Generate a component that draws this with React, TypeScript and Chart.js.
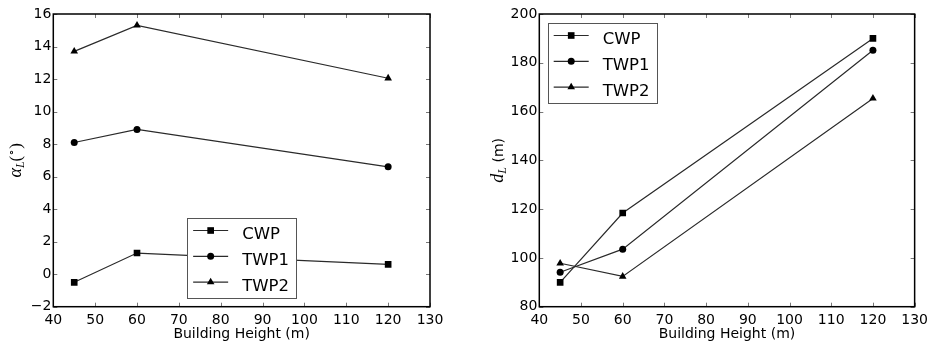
import React, { useEffect, useRef } from 'react';
import { Chart, registerables } from 'chart.js';

Chart.register(...registerables);

// ---------- data ----------
const heights = [45, 60, 120];
const seriesNames = ['CWP', 'TWP1', 'TWP2'];
const alphaCWP = [-0.5, 1.3, 0.6];
const alphaTWP1 = [8.1, 8.9, 6.6];
const alphaTWP2 = [13.7, 15.3, 12.05];
const dCWP = [90, 118.4, 190];
const dTWP1 = [94.1, 103.6, 185.1];
const dTWP2 = [97.8, 92.4, 165.4];
const xAxisTicks = [40, 130, 10]; // min, max, step
const alphaAxisTicks = [-2, 16, 2];
const dAxisTicks = [80, 200, 20];
const xTitle = 'Building Height (m)';

const pointStyles = ['rect', 'circle', 'triangle'];
const pointRadii = [4.7, 3.5, 4.4];
const LINE = '#2a2a2a';
const FONT = '"DejaVu Sans", sans-serif';

function drawMarker(ctx: CanvasRenderingContext2D, style: string, x: number, y: number, r: number) {
  ctx.beginPath();
  if (style === 'rect') {
    const s = Math.SQRT1_2 * r;
    ctx.rect(x - s, y - s, 2 * s, 2 * s);
  } else if (style === 'circle') {
    ctx.arc(x, y, r, 0, Math.PI * 2);
  } else {
    let rad = 0;
    const T = (2 * Math.PI) / 3;
    ctx.moveTo(x + Math.sin(rad) * r, y - Math.cos(rad) * r);
    rad += T;
    ctx.lineTo(x + Math.sin(rad) * r, y - Math.cos(rad) * r);
    rad += T;
    ctx.lineTo(x + Math.sin(rad) * r, y - Math.cos(rad) * r);
    ctx.closePath();
  }
  ctx.fillStyle = '#000';
  ctx.fill();
}

const framePlugin = {
  id: 'frame',
  afterDraw(chart: any, _args: any, opts: any) {
    const { ctx, chartArea: ca, scales } = chart;
    ctx.save();
    // inward ticks on all sides
    ctx.strokeStyle = '#777';
    ctx.lineWidth = 1;
    const L = 4;
    scales.x.ticks.forEach((t: any) => {
      const px = Math.round(scales.x.getPixelForValue(t.value)) + 0.5;
      ctx.beginPath();
      ctx.moveTo(px, ca.bottom);
      ctx.lineTo(px, ca.bottom - L);
      ctx.moveTo(px, ca.top);
      ctx.lineTo(px, ca.top + L);
      ctx.stroke();
    });
    scales.y.ticks.forEach((t: any) => {
      const py = Math.round(scales.y.getPixelForValue(t.value)) + 0.5;
      ctx.beginPath();
      ctx.moveTo(ca.left, py);
      ctx.lineTo(ca.left + L, py);
      ctx.moveTo(ca.right, py);
      ctx.lineTo(ca.right - L, py);
      ctx.stroke();
    });
    // legend
    const bw = 109;
    const bh = 80;
    let bx: number, by: number;
    if (opts.legend === 'lowerCenter') {
      bx = (ca.left + ca.right) / 2 - bw / 2;
      by = ca.bottom - 8.7 - bh;
    } else {
      bx = ca.left + 8.4;
      by = ca.top + 9;
    }
    ctx.fillStyle = '#fff';
    ctx.fillRect(bx, by, bw, bh);
    ctx.strokeStyle = '#555';
    ctx.lineWidth = 1;
    ctx.strokeRect(Math.round(bx) + 0.5, Math.round(by) + 0.5, bw, bh);
    chart.data.datasets.forEach((ds: any, i: number) => {
      const ry = by + 12.5 + i * 25.8;
      ctx.strokeStyle = LINE;
      ctx.lineWidth = 1.2;
      ctx.beginPath();
      ctx.moveTo(bx + 6, ry);
      ctx.lineTo(bx + 41, ry);
      ctx.stroke();
      drawMarker(ctx, ds.pointStyle, bx + 23.5, ry, ds.pointRadius);
      ctx.fillStyle = '#000';
      ctx.font = '16.5px ' + FONT;
      ctx.textAlign = 'left';
      ctx.textBaseline = 'alphabetic';
      ctx.fillText(ds.label, bx + 55, ry + 8.4);
    });
    // frame
    ctx.strokeStyle = '#000';
    ctx.lineWidth = 1.5;
    ctx.strokeRect(ca.left, ca.top, ca.width, ca.height);
    // y title with subscript
    const pieces: any[] = opts.titlePieces;
    let total = 0;
    pieces.forEach((p) => {
      ctx.font = p.font;
      p.w = ctx.measureText(p.text).width;
      total += p.w;
    });
    ctx.translate(opts.titleX, (ca.top + ca.bottom) / 2);
    ctx.rotate(-Math.PI / 2);
    ctx.textAlign = 'left';
    ctx.textBaseline = 'alphabetic';
    ctx.fillStyle = '#000';
    let u = -total / 2;
    pieces.forEach((p) => {
      ctx.font = p.font;
      ctx.fillText(p.text, u, 5 + p.dv);
      u += p.w;
    });
    ctx.restore();
  },
};

function makeConfig(series: number[][], yTicks: number[], legend: string, titlePieces: any[], titleX: number, yWidth: number, rightPad: number) {
  return {
    type: 'line',
    data: {
      datasets: series.map((vals, i) => ({
        label: seriesNames[i],
        data: heights.map((h, j) => ({ x: h, y: vals[j] })),
        borderColor: LINE,
        borderWidth: 1.2,
        backgroundColor: '#000',
        pointBackgroundColor: '#000',
        pointBorderWidth: 0,
        pointStyle: pointStyles[i],
        pointRadius: pointRadii[i],
        tension: 0,
        fill: false,
      })),
    },
    options: {
      animation: false,
      responsive: false,
      maintainAspectRatio: false,
      events: [],
      layout: { padding: { top: 14, right: rightPad, bottom: 0, left: 0 } },
      plugins: {
        legend: { display: false },
        tooltip: { enabled: false },
        frame: { legend, titlePieces, titleX },
      },
      scales: {
        x: {
          type: 'linear',
          min: xAxisTicks[0],
          max: xAxisTicks[1],
          grid: { display: false, drawTicks: false },
          border: { display: false },
          ticks: {
            stepSize: xAxisTicks[2],
            padding: 5,
            color: '#000',
            font: { family: FONT, size: 14 },
            maxRotation: 0,
          },
          title: {
            display: true,
            text: xTitle,
            color: '#000',
            font: { family: FONT, size: 14 },
            padding: { top: 0, bottom: 4 },
          },
          afterFit: (s: any) => {
            s.height = 40.3;
          },
        },
        y: {
          type: 'linear',
          min: yTicks[0],
          max: yTicks[1],
          grid: { display: false, drawTicks: false },
          border: { display: false },
          ticks: {
            stepSize: yTicks[2],
            padding: 2,
            color: '#000',
            font: { family: FONT, size: 14 },
            callback: (v: number) => (v < 0 ? '\u2212' + Math.abs(v) : String(v)),
          },
          afterFit: (s: any) => {
            s.width = yWidth;
          },
        },
      },
    },
    plugins: [framePlugin],
  };
}

const MATH = '"Liberation Serif", serif';

function ChartCanvas({ config, left, width }: any) {
  const ref = useRef<HTMLCanvasElement>(null);
  useEffect(() => {
    const chart = new Chart(ref.current as HTMLCanvasElement, config as any);
    return () => chart.destroy();
  }, []);
  return (
    <canvas
      ref={ref}
      width={width}
      height={347}
      style={{ position: 'absolute', left, top: 0, width, height: 347, display: 'block' }}
    />
  );
}

export default function App() {
  const leftCfg = makeConfig(
    [alphaCWP, alphaTWP1, alphaTWP2],
    alphaAxisTicks,
    'lowerCenter',
    [
      { text: '\u03b1', font: 'italic 18px ' + MATH, dv: 0 },
      { text: 'L', font: 'italic 12px ' + MATH, dv: 3 },
      { text: '(', font: '17px ' + MATH, dv: 0 },
      { text: '\u2218', font: '11px ' + MATH, dv: -6 },
      { text: ')', font: '17px ' + MATH, dv: 0 },
    ],
    15.5,
    53.3,
    36
  );
  const rightCfg = makeConfig(
    [dCWP, dTWP1, dTWP2],
    dAxisTicks,
    'upperLeft',
    [
      { text: 'd', font: 'italic 18px ' + MATH, dv: 0 },
      { text: 'L', font: 'italic 12px ' + MATH, dv: 3 },
      { text: ' (m)', font: '14px ' + FONT, dv: 0 },
    ],
    31.5,
    73.3,
    17
  );
  return (
    <div style={{ position: 'absolute', left: 0, top: 0, width: 933, height: 347, background: '#fff' }}>
      <ChartCanvas config={leftCfg} left={0} width={466} />
      <ChartCanvas config={rightCfg} left={466} width={467} />
    </div>
  );
}
